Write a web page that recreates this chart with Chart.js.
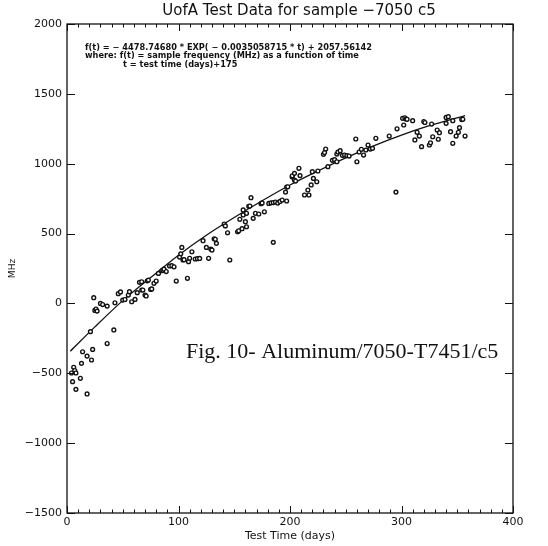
<!DOCTYPE html>
<html>
<head>
<meta charset="utf-8">
<script src="https://cdn.jsdelivr.net/npm/chart.js@4.4.0/dist/chart.umd.min.js"></script>
<style>
  html, body { margin: 0; padding: 0; background: #fff; }
</style>
</head>
<body>
<canvas id="chart" width="548" height="546"></canvas>
<script>
// measured sample frequency vs test time
var days = [4, 5, 6, 7, 8, 8, 12, 13, 14, 18, 18, 21, 22, 23, 24, 25, 26, 27, 30, 32,
    36, 36, 42, 43, 46, 48, 50, 52, 55, 56, 58, 61, 63, 65, 67, 67, 68, 70, 71, 72,
    73, 75, 76, 78, 80, 82, 85, 86, 87, 89, 92, 94, 96, 98, 101, 102, 103, 104, 105, 108,
    109, 110, 112, 115, 117, 119, 122, 125, 127, 129, 130, 132, 133, 134, 141, 142, 144, 146, 153, 154,
    155, 157, 158, 158, 160, 161, 161, 163, 164, 165, 167, 169, 172, 174, 175, 177, 181, 183, 185, 185,
    187, 189, 191, 193, 196, 197, 197, 198, 202, 202, 204, 204, 205, 208, 209, 213, 216, 217, 219, 220,
    221, 224, 225, 230, 231, 232, 234, 238, 240, 242, 242, 243, 245, 247, 249, 251, 253, 259, 260, 262,
    264, 266, 268, 270, 272, 274, 277, 289, 295, 296, 301, 302, 303, 304, 305, 310, 312, 314, 316, 318,
    320, 321, 325, 326, 327, 328, 332, 333, 334, 340, 340, 342, 344, 346, 346, 349, 351, 352, 354, 355, 357];
var mhz = [-498, -560, -457, -480, -498, -615, -536, -429, -346, -377, -648, -202, -405, -329, 41, -50, -40, -55, 0, -8,
    -19, -287, -190, 5, 70, 82, 24, 28, 60, 84, 12, 29, 77, 151, 96, 155, 96, 60, 53, 162,
    167, 100, 104, 144, 160, 215, 234, 238, 245, 228, 268, 270, 262, 160, 332, 355, 401, 311, 313, 180,
    299, 323, 370, 318, 320, 322, 449, 401, 323, 389, 382, 463, 459, 430, 568, 555, 506, 311, 513, 520,
    602, 535, 633, 669, 585, 549, 645, 695, 697, 757, 609, 645, 640, 714, 719, 656, 716, 720, 437, 722,
    726, 718, 730, 740, 797, 733, 833, 835, 905, 914, 883, 931, 876, 967, 915, 776, 812, 776, 848, 943,
    895, 871, 948, 1067, 1080, 1105, 979, 1024, 1029, 1014, 1069, 1084, 1093, 1060, 1062, 1058, 1055, 1177, 1014, 1084,
    1103, 1062, 1098, 1134, 1105, 1110, 1182, 1198, 797, 1250, 1325, 1277, 1329, 1320, 1318, 1308, 1170, 1225, 1198, 1122,
    1302, 1295, 1134, 1150, 1284, 1193, 1241, 1175, 1222, 1331, 1289, 1337, 1229, 1146, 1308, 1198, 1225, 1258, 1316, 1318, 1198];

// fitted curve
var fitDays = [3, 25, 50, 75, 100, 125, 150, 175, 200, 225, 250, 275, 300, 325, 357];
var fitMhz = [-342, -168, 20, 185, 345, 488, 615, 735, 848, 948, 1042, 1128, 1205, 1272, 1345];

var xTicks = [0, 100, 200, 300, 400];
var yTicks = [-1500, -1000, -500, 0, 500, 1000, 1500, 2000];

var titleText = 'UofA Test Data for sample \u22127050 c5';
var formulaLines = [
    'f(t) = \u2212 4478.74680 * EXP( \u2212 0.0035058715 * t) + 2057.56142',
    'where: f(t) = sample frequency (MHz) as a function of time',
    't = test time (days)+175'
];
var figLabel = 'Fig. 10- Aluminum/7050-T7451/c5';

var points = days.map(function (d, i) { return { x: d, y: mhz[i] }; });
var fitPoints = fitDays.map(function (d, i) { return { x: d, y: fitMhz[i] }; });

var ink = '#111';
var labelFont = { family: 'DejaVu Sans', size: 11 };

function fmt(v) { return v < 0 ? '\u2212' + (-v) : String(v); }

// box with inward ticks on all four sides, plus the text annotations
var framePlugin = {
    id: 'frame',
    afterDraw: function (chart) {
        var ctx = chart.ctx;
        var a = chart.chartArea;
        var xs = chart.scales.x, ys = chart.scales.y;
        ctx.save();
        ctx.strokeStyle = ink;
        ctx.lineWidth = 1.3;
        ctx.strokeRect(a.left, a.top, a.right - a.left, a.bottom - a.top);
        ctx.lineWidth = 1;
        ctx.beginPath();
        for (var v = 0; v <= 400; v += 10) {
            var px = Math.round(xs.getPixelForValue(v)) + 0.5;
            var len = (v % 100 === 0) ? 7 : 3.5;
            ctx.moveTo(px, a.bottom); ctx.lineTo(px, a.bottom - len);
            ctx.moveTo(px, a.top); ctx.lineTo(px, a.top + len);
        }
        yTicks.forEach(function (t) {
            var py = Math.round(ys.getPixelForValue(t)) + 0.5;
            ctx.moveTo(a.left, py); ctx.lineTo(a.left + 8, py);
            ctx.moveTo(a.right, py); ctx.lineTo(a.right - 8, py);
        });
        ctx.stroke();

        ctx.fillStyle = ink;
        ctx.textBaseline = 'middle';
        ctx.textAlign = 'center';
        ctx.font = '15px "DejaVu Sans"';
        ctx.fillText(titleText, 299, 11);

        // formula block, squeezed to the width seen in the figure
        ctx.textAlign = 'left';
        ctx.textBaseline = 'alphabetic';
        ctx.font = 'bold 8px "DejaVu Sans"';
        var sx = 287 / ctx.measureText(formulaLines[0]).width;
        var starts = [85, 85, 123];
        formulaLines.forEach(function (line, i) {
            ctx.save();
            ctx.translate(starts[i], 50 + i * 8.3);
            ctx.scale(sx, 1);
            ctx.fillText(line, 0, 0);
            ctx.restore();
        });

        ctx.font = '22px "Liberation Serif"';
        ctx.fillText(figLabel, 186, 358);
        ctx.restore();
    }
};

new Chart(document.getElementById('chart').getContext('2d'), {
    type: 'scatter',
    data: {
        datasets: [{
            label: 'data',
            data: points,
            pointStyle: 'circle',
            pointRadius: 1.9,
            pointBorderWidth: 1.4,
            borderColor: ink,
            backgroundColor: '#fff'
        }, {
            label: 'fit',
            type: 'line',
            data: fitPoints,
            showLine: true,
            pointRadius: 0,
            borderColor: ink,
            borderWidth: 1.3,
            cubicInterpolationMode: 'monotone',
            fill: false
        }]
    },
    options: {
        responsive: false,
        animation: false,
        layout: { padding: { top: 24, right: 35, left: 0, bottom: 0 } },
        plugins: {
            legend: { display: false },
            tooltip: { enabled: false }
        },
        scales: {
            x: {
                type: 'linear',
                min: 0,
                max: 400,
                afterFit: function (s) { s.height = 33; },
                afterBuildTicks: function (s) { s.ticks = xTicks.map(function (v) { return { value: v }; }); },
                grid: { display: false, drawTicks: false },
                border: { display: false },
                ticks: { color: ink, font: labelFont, padding: 3, maxRotation: 0, callback: fmt },
                title: { display: true, text: 'Test Time (days)', color: ink, font: labelFont, padding: { top: 0, bottom: 3 } }
            },
            y: {
                type: 'linear',
                min: -1500,
                max: 2000,
                afterFit: function (s) { s.width = 67; },
                afterBuildTicks: function (s) { s.ticks = yTicks.map(function (v) { return { value: v }; }); },
                grid: { display: false, drawTicks: false },
                border: { display: false },
                ticks: { color: ink, font: labelFont, padding: 5, callback: fmt },
                title: { display: true, text: 'MHz', color: ink, font: { family: 'DejaVu Sans', size: 9 }, padding: { top: 7, bottom: 0 } }
            }
        }
    },
    plugins: [framePlugin]
});
</script>
</body>
</html>
